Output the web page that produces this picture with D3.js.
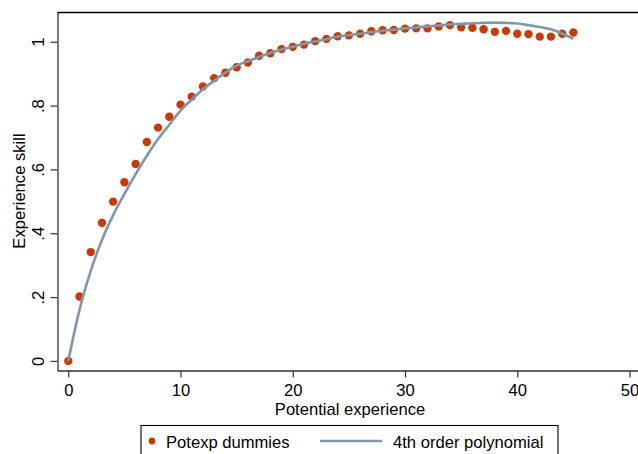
<!DOCTYPE html>
<html>
<head>
<meta charset="utf-8">
<script src="https://cdn.jsdelivr.net/npm/d3@7"></script>
<style>
  body { margin: 0; background: #fff; }
  svg text { font-family: "Liberation Sans", Arial, sans-serif; fill: #000; }
</style>
</head>
<body>
<svg id="chart" width="638" height="454"></svg>
<script>
// potential experience 0..45
var potexp = d3.range(0, 46);
// dummy coefficients
var dummies = [0, 0.202, 0.341, 0.433, 0.499, 0.560, 0.617, 0.686, 0.731, 0.765,
  0.803, 0.828, 0.860, 0.886, 0.903, 0.920, 0.935, 0.956, 0.964, 0.977,
  0.984, 0.991, 1.002, 1.009, 1.017, 1.020, 1.025, 1.033, 1.036, 1.037,
  1.041, 1.042, 1.042, 1.048, 1.052, 1.045, 1.044, 1.039, 1.031, 1.034,
  1.025, 1.024, 1.016, 1.016, 1.025, 1.029];
// fitted 4th order polynomial, read at each year
var poly = [0, 0.160, 0.282, 0.379, 0.457, 0.523, 0.585, 0.643, 0.695, 0.740,
  0.784, 0.819, 0.851, 0.878, 0.903, 0.925, 0.939, 0.952, 0.965, 0.976,
  0.984, 0.994, 1.001, 1.008, 1.016, 1.021, 1.025, 1.030, 1.034, 1.038,
  1.042, 1.045, 1.048, 1.051, 1.054, 1.056, 1.058, 1.059, 1.060, 1.059,
  1.057, 1.052, 1.046, 1.039, 1.026, 1.009];
var xTicks = [0, 10, 20, 30, 40, 50];
var yTicks = [0, 0.2, 0.4, 0.6, 0.8, 1];
var labels = ["Potexp dummies", "4th order polynomial"];

var dotColor = "#c93a06";
var lineColor = "#7f97ad";
var fs = "16.6px";

var svg = d3.select("#chart");

var x = d3.scaleLinear().domain([-0.96, 51.2]).range([57.5, 643]);
var y = d3.scaleLinear().domain([-0.03, 1.0916]).range([370.5, 12.5]);

// top frame line
svg.append("line")
  .attr("x1", 57.5).attr("x2", 643)
  .attr("y1", 12.5).attr("y2", 12.5)
  .attr("stroke", "#000").attr("stroke-width", 1.3);

var yFmt = function(d) { return d === 0 ? "0" : d === 1 ? "1" : String(d).replace("0.", "."); };

var gy = svg.append("g").attr("transform", "translate(57.5,0)")
  .call(d3.axisLeft(y).tickValues(yTicks).tickFormat(yFmt).tickSizeInner(7).tickSizeOuter(0));
gy.select(".domain").attr("stroke", "#333").attr("stroke-width", 1.3);
gy.selectAll(".tick line").attr("stroke", "#333").attr("stroke-width", 1.2);
gy.selectAll(".tick text")
  .attr("x", 0).attr("y", -14).attr("dy", null)
  .attr("transform", "rotate(-90)")
  .attr("text-anchor", "middle")
  .style("font-size", fs).style("font-family", null);

var gx = svg.append("g").attr("transform", "translate(0,370.5)")
  .call(d3.axisBottom(x).tickValues(xTicks).tickSizeInner(7).tickSizeOuter(0));
gx.select(".domain").attr("stroke", "#333").attr("stroke-width", 1.3);
gx.selectAll(".tick line").attr("stroke", "#333").attr("stroke-width", 1.2);
gx.selectAll(".tick text")
  .attr("y", 25.5).attr("dy", null)
  .style("font-size", fs).style("font-family", null);

// axis titles
svg.append("text")
  .attr("x", 350).attr("y", 415)
  .attr("text-anchor", "middle").style("font-size", fs)
  .text("Potential experience");
svg.append("text")
  .attr("transform", "translate(25,191) rotate(-90)")
  .attr("text-anchor", "middle").style("font-size", fs)
  .text("Experience skill");

// dummies
svg.append("g").selectAll("circle")
  .data(potexp)
  .join("circle")
  .attr("cx", function(d) { return x(d); })
  .attr("cy", function(d, i) { return y(dummies[i]); })
  .attr("r", 4.2)
  .attr("fill", dotColor);

// polynomial fit
var line = d3.line()
  .x(function(d) { return x(d); })
  .y(function(d, i) { return y(poly[i]); })
  .curve(d3.curveMonotoneX);
svg.append("path")
  .datum(potexp)
  .attr("d", line)
  .attr("fill", "none")
  .attr("stroke", lineColor)
  .attr("stroke-width", 2.6);

// legend
var lg = svg.append("g");
lg.append("rect")
  .attr("x", 141).attr("y", 425.5)
  .attr("width", 417).attr("height", 40)
  .attr("fill", "#fff").attr("stroke", "#000").attr("stroke-width", 1.1);
lg.append("circle").attr("cx", 152).attr("cy", 441).attr("r", 3.4).attr("fill", dotColor);
lg.append("text").attr("x", 166).attr("y", 447.5).style("font-size", fs).text(labels[0]);
lg.append("line")
  .attr("x1", 320).attr("x2", 382).attr("y1", 441).attr("y2", 441)
  .attr("stroke", lineColor).attr("stroke-width", 2.6);
lg.append("text").attr("x", 393).attr("y", 447.5).style("font-size", fs).text(labels[1]);
</script>
</body>
</html>
